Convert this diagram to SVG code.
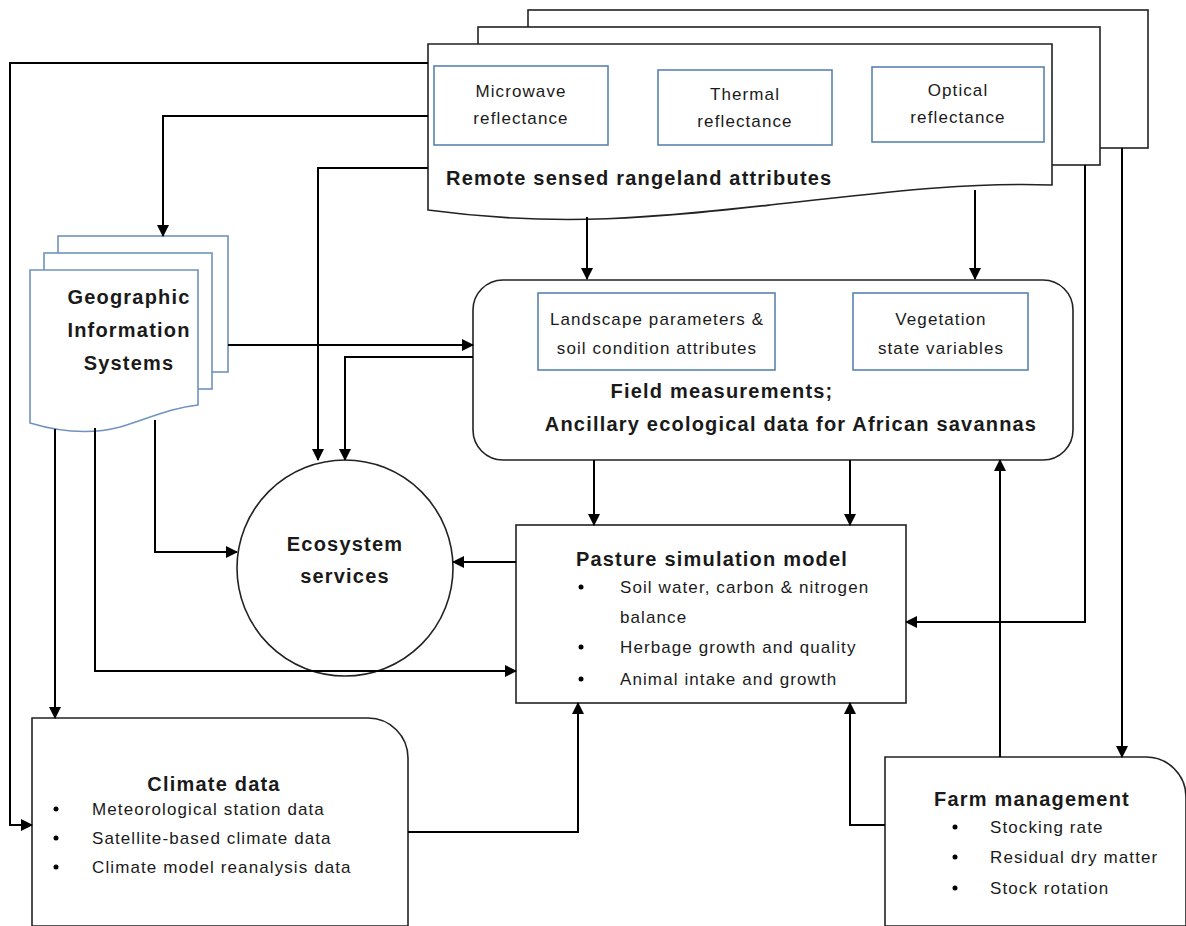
<svg xmlns="http://www.w3.org/2000/svg" width="1186" height="926" viewBox="0 0 1186 926">
<defs>
<marker id="ah" markerUnits="userSpaceOnUse" markerWidth="12" markerHeight="12" viewBox="0 0 12 12" refX="11" refY="6" orient="auto">
<path d="M0,0 L12,6 L0,12 Z" fill="#000"/>
</marker>
<style>
.doc{fill:#fff;stroke:#222;stroke-width:1.6}
.gis{fill:#fff;stroke:#6f93bd;stroke-width:1.6}
.inner{fill:#fff;stroke:#5b82b0;stroke-width:1.6}
.box{fill:#fff;stroke:#222;stroke-width:1.6}
.c{fill:none;stroke:#000;stroke-width:2}
.ca{fill:none;stroke:#000;stroke-width:2;marker-end:url(#ah)}
text{font-family:"Liberation Sans",Arial,sans-serif;fill:#1a1a1a}
.t{font-size:17px;letter-spacing:1.1px}
.b{font-size:20px;font-weight:bold;letter-spacing:1.2px}
.m{text-anchor:middle}
</style>
</defs>
<rect width="1186" height="926" fill="#fff"/>

<g id="remote-sensed">
<rect class="doc" x="528" y="10" width="620" height="138"/>
<rect class="doc" x="478" y="27" width="622" height="138"/>
<path class="doc" d="M428,44 H1052 V185 C960,182 880,193 770,205 C660,217 560,228 428,210 Z"/>
<rect class="inner" x="434" y="66" width="174" height="79"/>
<text class="t m" x="521" y="97">Microwave</text>
<text class="t m" x="521" y="124">reflectance</text>
<rect class="inner" x="658" y="70" width="174" height="75"/>
<text class="t m" x="745" y="100">Thermal</text>
<text class="t m" x="745" y="127">reflectance</text>
<rect class="inner" x="872" y="67" width="172" height="75"/>
<text class="t m" x="958" y="96">Optical</text>
<text class="t m" x="958" y="123">reflectance</text>
<text class="b" x="446" y="185">Remote sensed rangeland attributes</text>
</g>

<g id="gis">
<rect class="gis" x="58" y="236" width="170" height="136"/>
<rect class="gis" x="44" y="253" width="168" height="136"/>
<path class="gis" d="M30,270 H198 V405 C170,408 150,418 120,427 C90,435 60,432 30,423 Z"/>
<text class="b m" x="129" y="304">Geographic</text>
<text class="b m" x="129" y="337">Information</text>
<text class="b m" x="129" y="370">Systems</text>
</g>

<g id="field">
<rect class="box" x="473" y="280" width="600" height="180" rx="30"/>
<rect class="inner" x="538" y="293" width="237" height="77"/>
<text class="t m" x="657" y="325">Landscape parameters &amp;</text>
<text class="t m" x="657" y="354">soil condition attributes</text>
<rect class="inner" x="853" y="293" width="175" height="77"/>
<text class="t m" x="941" y="325">Vegetation</text>
<text class="t m" x="941" y="354">state variables</text>
<text class="b m" x="722" y="398">Field measurements;</text>
<text class="b m" x="791" y="431">Ancillary ecological data for African savannas</text>
</g>

<g id="ecosystem">
<circle class="box" cx="345" cy="568" r="108"/>
<text class="b m" x="345" y="551">Ecosystem</text>
<text class="b m" x="345" y="583">services</text>
</g>

<g id="pasture">
<rect class="box" x="516" y="525" width="390" height="178"/>
<text class="b m" x="712" y="566">Pasture simulation model</text>
<circle cx="581" cy="587" r="2.5" fill="#000"/>
<text class="t" x="620" y="593">Soil water, carbon &amp; nitrogen</text>
<text class="t" x="620" y="623">balance</text>
<circle cx="581" cy="647" r="2.5" fill="#000"/>
<text class="t" x="620" y="653">Herbage growth and quality</text>
<circle cx="581" cy="679" r="2.5" fill="#000"/>
<text class="t" x="620" y="685">Animal intake and growth</text>
</g>

<g id="climate">
<path class="box" d="M32,718 H368 A40,40 0 0 1 408,758 V926 H32 Z"/>
<text class="b m" x="214" y="791">Climate data</text>
<circle cx="56" cy="809" r="2.5" fill="#000"/>
<text class="t" x="92" y="815">Meteorological station data</text>
<circle cx="56" cy="838" r="2.5" fill="#000"/>
<text class="t" x="92" y="844">Satellite-based climate data</text>
<circle cx="56" cy="867" r="2.5" fill="#000"/>
<text class="t" x="92" y="873">Climate model reanalysis data</text>
</g>

<g id="farm">
<path class="box" d="M885,757 H1146 A40,40 0 0 1 1186,797 V926 H885 Z"/>
<text class="b m" x="1032" y="806">Farm management</text>
<circle cx="955" cy="827" r="2.5" fill="#000"/>
<text class="t" x="990" y="833">Stocking rate</text>
<circle cx="955" cy="857" r="2.5" fill="#000"/>
<text class="t" x="990" y="863">Residual dry matter</text>
<circle cx="955" cy="888" r="2.5" fill="#000"/>
<text class="t" x="990" y="894">Stock rotation</text>
</g>

<g id="connectors">
<path class="ca" d="M428,63 H10 V825 H32"/>
<path class="ca" d="M428,116 H163 V236"/>
<path class="ca" d="M428,168 H318 V460"/>
<path class="ca" d="M587,217 V279"/>
<path class="ca" d="M975,190 V279"/>
<path class="ca" d="M1122,148 V757"/>
<path class="ca" d="M1085,165 V622 H906"/>
<path class="ca" d="M228,345 H473"/>
<path class="ca" d="M473,357 H345 V460"/>
<path class="ca" d="M55,429 V718"/>
<path class="ca" d="M95,428 V671 H516"/>
<path class="ca" d="M155,420 V552 H237"/>
<path class="ca" d="M594,460 V525"/>
<path class="ca" d="M850,460 V525"/>
<path class="ca" d="M1000,757 V460"/>
<path class="ca" d="M516,562 H453"/>
<path class="ca" d="M408,832 H578 V703"/>
<path class="ca" d="M885,825 H850 V703"/>
</g>
</svg>
